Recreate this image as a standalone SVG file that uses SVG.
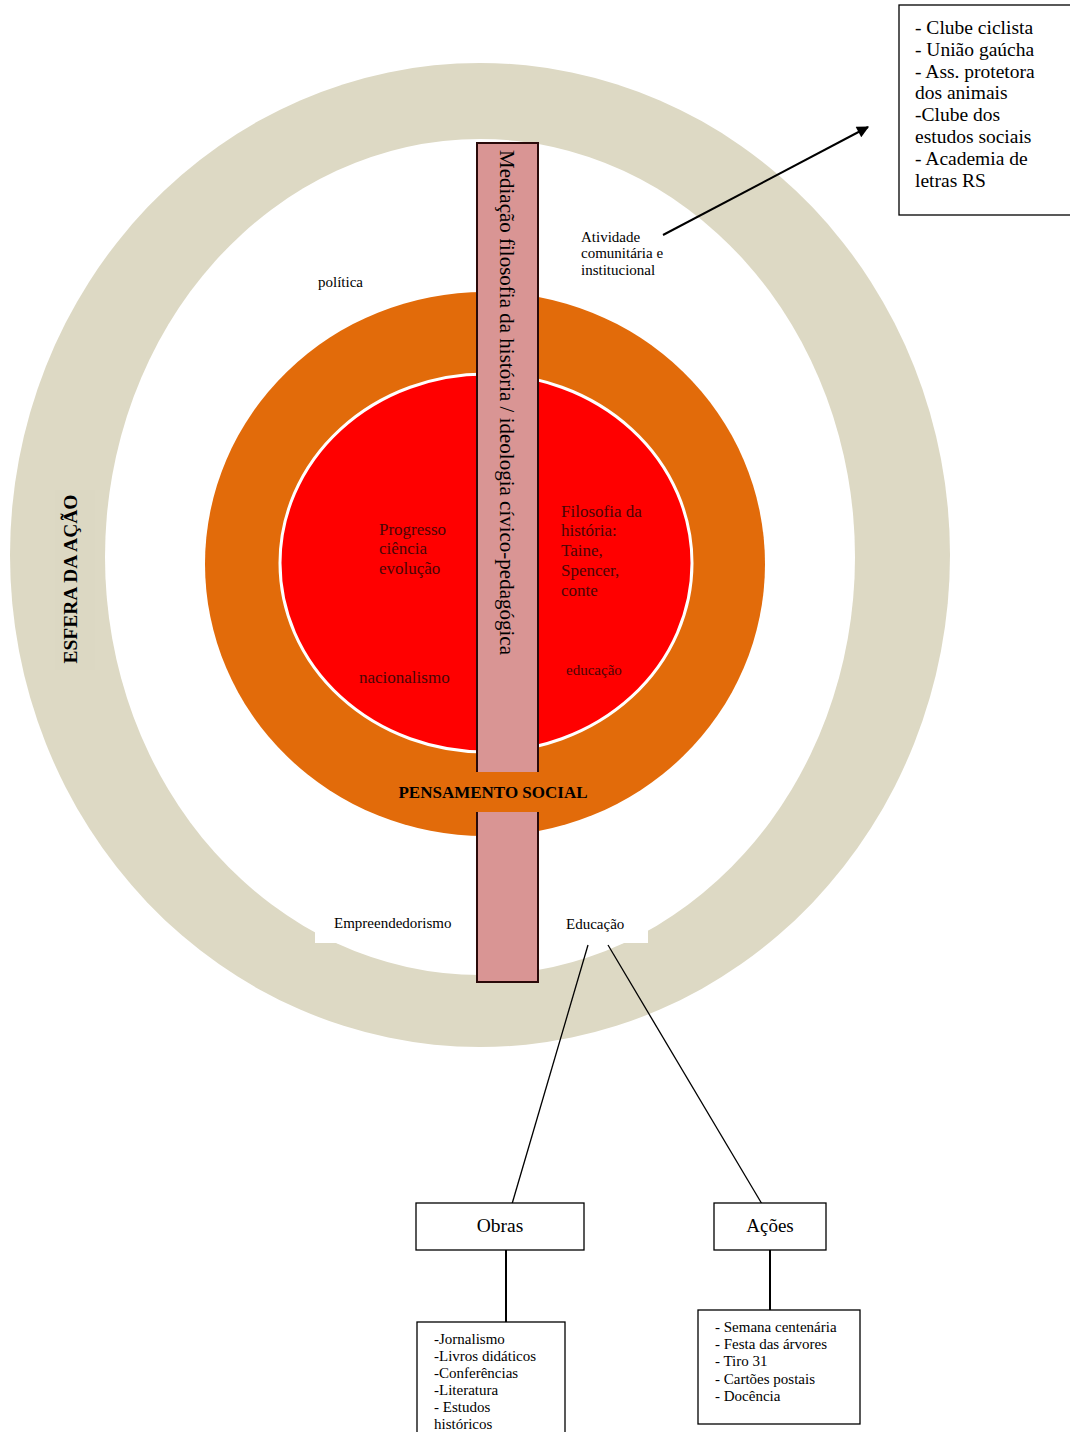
<svg xmlns="http://www.w3.org/2000/svg" width="1070" height="1432" viewBox="0 0 1070 1432" font-family="'Liberation Serif', 'DejaVu Serif', serif">
<defs>
<style>
text{font-family:'Liberation Serif', 'DejaVu Serif', serif;fill:#000}
.s15{font-size:15px}
.s17{font-size:17px}
.s19{font-size:19.5px}
.dk{fill:#4a0606}
.box{fill:#fff;stroke:#000;stroke-width:1.3}
.ln{stroke:#000;stroke-width:1.3;fill:none}
.ln2{stroke:#000;stroke-width:2;fill:none}
</style>
<marker id="ah" viewBox="0 0 10 10" refX="9" refY="5" markerWidth="14" markerHeight="12" markerUnits="userSpaceOnUse" orient="auto">
<path d="M0,0 L10,5 L0,10 z" fill="#000"/>
</marker>
</defs>
<rect width="1070" height="1432" fill="#fff"/>

<g id="esfera">
<ellipse cx="480" cy="555" rx="470" ry="492" fill="#ddd9c4"/>
<ellipse cx="480" cy="557" rx="375" ry="418" fill="#fff"/>
<rect x="315" y="905" width="145" height="38" fill="#fff"/>
<rect x="555" y="905" width="93" height="38" fill="#fff"/>
<rect x="55" y="490" width="40" height="180" fill="#dcd8c3"/>
<text class="s19" font-weight="bold" transform="translate(77,579) rotate(-90)" text-anchor="middle">ESFERA DA AÇÃO</text>
</g>

<g id="pensamento">
<ellipse cx="485" cy="564" rx="280" ry="272" fill="#e26b0a"/>
</g>

<g id="nucleo">
<ellipse cx="486" cy="563" rx="206" ry="189" fill="#ff0000" stroke="#fff" stroke-width="3"/>
<text class="s17 dk" x="379" y="535">Progresso</text>
<text class="s17 dk" x="379" y="554">ciência</text>
<text class="s17 dk" x="379" y="574">evolução</text>
<text class="s17 dk" x="561" y="517">Filosofia da</text>
<text class="s17 dk" x="561" y="536">história:</text>
<text class="s17 dk" x="561" y="556">Taine,</text>
<text class="s17 dk" x="561" y="576">Spencer,</text>
<text class="s17 dk" x="561" y="596">conte</text>
<text class="s17 dk" x="359" y="683">nacionalismo</text>
<text class="s15 dk" x="566" y="675">educação</text>
</g>

<g id="mediacao">
<path d="M477,772 V143 H538 V772 M477,812 V982 H538 V812" fill="#d99594" stroke="#2a0a0a" stroke-width="2"/>
<text font-size="21" transform="translate(500,150) rotate(90)">Mediação filosofia da história / ideologia cívico-pedagógica</text>
</g>

<g id="pensamento-label">
<text class="s17" font-weight="bold" x="493" y="798" text-anchor="middle">PENSAMENTO SOCIAL</text>
</g>

<g id="labels">
<text class="s15" x="318" y="287">política</text>
<text class="s15" x="581" y="242">Atividade</text>
<text class="s15" x="581" y="258">comunitária e</text>
<text class="s15" x="581" y="275">institucional</text>
<text class="s15" x="334" y="928">Empreendedorismo</text>
<text class="s15" x="566" y="929">Educação</text>
</g>

<g id="connectors">
<line class="ln2" x1="663" y1="235" x2="868" y2="127" marker-end="url(#ah)" stroke-width="2.4"/>
<line class="ln" x1="588" y1="945" x2="512" y2="1204"/>
<line class="ln" x1="608" y1="945" x2="762" y2="1204"/>
<line class="ln2" x1="506" y1="1250" x2="506" y2="1322"/>
<line class="ln2" x1="770" y1="1250" x2="770" y2="1310"/>
</g>

<g id="instituicoes">
<rect class="box" x="899" y="5" width="175" height="210"/>
<text class="s19" x="915" y="34">- Clube ciclista</text>
<text class="s19" x="915" y="56">- União gaúcha</text>
<text class="s19" x="915" y="78">- Ass. protetora</text>
<text class="s19" x="915" y="99">dos animais</text>
<text class="s19" x="915" y="121">-Clube dos</text>
<text class="s19" x="915" y="143">estudos sociais</text>
<text class="s19" x="915" y="165">- Academia de</text>
<text class="s19" x="915" y="187">letras RS</text>
</g>

<g id="obras">
<rect class="box" x="416" y="1203" width="168" height="47"/>
<text font-size="19.5" x="500" y="1232" text-anchor="middle">Obras</text>
</g>

<g id="acoes">
<rect class="box" x="714" y="1203" width="112" height="47"/>
<text font-size="19" x="770" y="1232" text-anchor="middle">Ações</text>
</g>

<g id="obras-lista">
<rect class="box" x="417" y="1322" width="148" height="120"/>
<text class="s15" x="434" y="1344">-Jornalismo</text>
<text class="s15" x="434" y="1361">-Livros didáticos</text>
<text class="s15" x="434" y="1378">-Conferências</text>
<text class="s15" x="434" y="1395">-Literatura</text>
<text class="s15" x="434" y="1412">- Estudos</text>
<text class="s15" x="434" y="1429">históricos</text>
</g>

<g id="acoes-lista">
<rect class="box" x="698" y="1310" width="162" height="114"/>
<text class="s15" x="715" y="1332">- Semana centenária</text>
<text class="s15" x="715" y="1349">- Festa das árvores</text>
<text class="s15" x="715" y="1366">- Tiro 31</text>
<text class="s15" x="715" y="1384">- Cartões postais</text>
<text class="s15" x="715" y="1401">- Docência</text>
</g>
</svg>
